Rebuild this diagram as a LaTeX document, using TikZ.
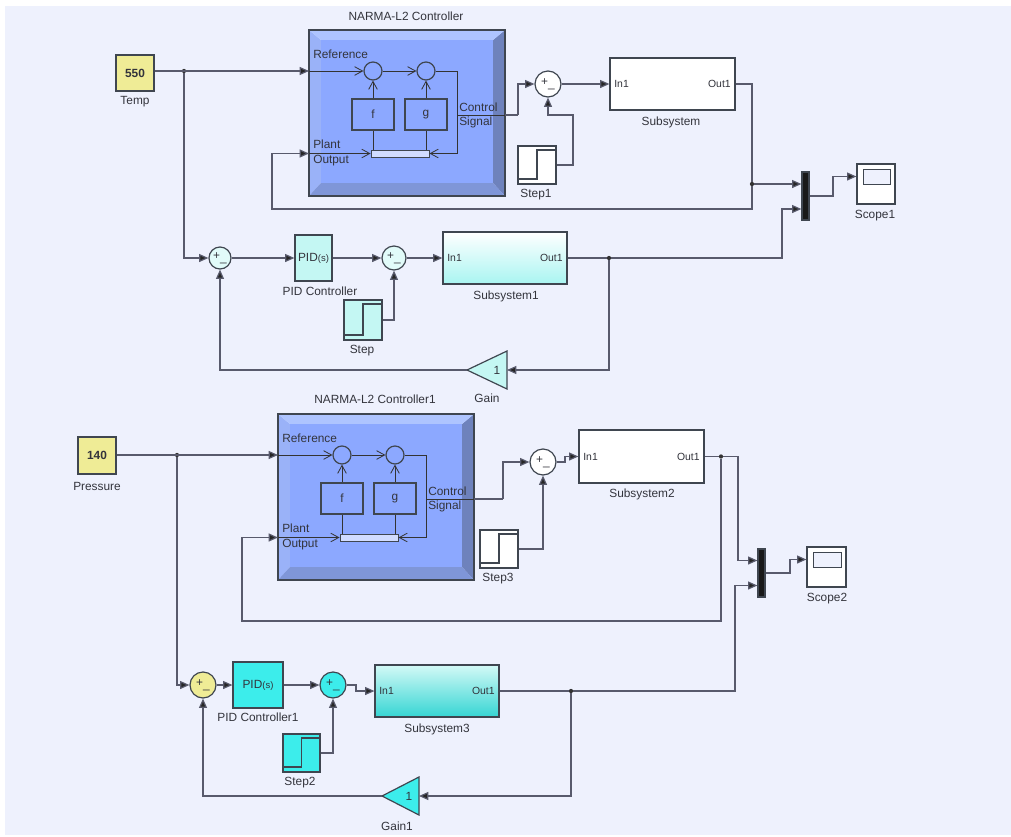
\documentclass[tikz,border=0pt]{standalone}
\usepackage{fontspec}
\setmainfont{Liberation Sans}
\usetikzlibrary{arrows.meta,calc}
\definecolor{bgc}{HTML}{EEF1FD}
\definecolor{wirec}{HTML}{585A6C}
\definecolor{edgec}{HTML}{3F4650}
\definecolor{txtc}{HTML}{33343C}
\definecolor{yel}{HTML}{EFEC96}
\definecolor{lcy}{HTML}{C4F7F3}
\definecolor{cy}{HTML}{3CEDEB}
\definecolor{nmid}{HTML}{8CA8FF}
\definecolor{ntop}{HTML}{AEC4FF}
\definecolor{nleft}{HTML}{9AB2F8}
\definecolor{nright}{HTML}{6E82BC}
\definecolor{nbot}{HTML}{7F96D8}
\tikzset{
  x=0.75pt,y=-0.75pt,
  every node/.style={text=txtc,font=\fontsize{8.9}{10}\selectfont},
  wire/.style={draw=wirec,line width=0.9pt,-{Triangle[length=7pt,width=6pt,fill=black!85]}},
  plain/.style={draw=wirec,line width=0.9pt},
  thin wire/.style={draw=black!80,line width=0.6pt},
  open/.style={draw=black!80,line width=0.6pt,-{Straight Barb[length=6pt,width=6.5pt]}},
  block/.style={draw=edgec,line width=0.9pt,inner sep=0pt},
  dot/.style={circle,fill=black!80,inner sep=0pt,minimum size=3.2pt},
  lab/.style={inner sep=0pt},
  sub white/.style={fill=white},
  sub lcy/.style={top color=white,bottom color=lcy!80!cy},
  sub cy/.style={top color=lcy!75!white,bottom color=cy!90!black},
}
% name x1 y1 x2 y2 style text
\newcommand\blk[7]{%
  \pgfmathsetmacro\bkw{(#4-#2)*0.75}\pgfmathsetmacro\bkh{(#5-#3)*0.75}%
  \node[block,#6,minimum width=\bkw pt,minimum height=\bkh pt] (#1) at ({(#2+#4)/2},{(#3+#5)/2}) {#7};}
% step block: name x1 y1 x2 y2 fill
\newcommand\stepblk[6]{%
  \blk{#1}{#2}{#3}{#4}{#5}{fill=#6}{}%
  \draw[edgec,line width=0.9pt] ({#2+1},{#5-5}) -- ({(#2+#4)/2},{#5-5}) -- ({(#2+#4)/2},{#3+4}) -- ({#4-1},{#3+4});}
% subsystem ports
\newcommand\subports[3]{%
  \node[lab,anchor=west,xshift=3.5pt,font=\fontsize{7.8}{9}\selectfont] (#1in) at (#1.west) {In1};
  \node[lab,anchor=east,xshift=-3.5pt,font=\fontsize{7.8}{9}\selectfont] (#1out) at (#1.east) {Out1};}
% gain: name tipx y rightx fill
\newcommand\gainblk[5]{%
  \coordinate (#1tip) at (#2,#3);
  \coordinate (#1in) at (#4,#3);
  \draw[edgec,line width=0.9pt,fill=#5] (#2,#3) -- (#4,#3-19) -- (#4,#3+19) -- cycle;
  \node[lab] (#1txt) at (#4-10,#3) {1};}
% NARMA block at offset
\newcommand\narma[3]{%
\begin{scope}[shift={(#2,#3)}]
  \fill[nleft] (309,30) -- (321,40) -- (321,183) -- (309,196) -- cycle;
  \fill[nright] (505,30) -- (493,40) -- (493,183) -- (505,196) -- cycle;
  \fill[nbot] (309,196) -- (321,183) -- (493,183) -- (505,196) -- cycle;
  \fill[ntop] (309,30) -- (505,30) -- (493,40) -- (321,40) -- cycle;
  \fill[nmid] (321,40) rectangle (493,183);
  \blk{#1}{309}{30}{505}{196}{}{}
  \blk{#1a}{364}{62}{382}{80}{shape=circle,minimum size=13.5pt}{}
  \blk{#1b}{417}{62}{435}{80}{shape=circle,minimum size=13.5pt}{}
  \blk{#1f}{352}{99}{394}{130}{}{f}
  \blk{#1g}{405}{99}{447}{130}{}{g}
  \blk{#1bar}{371}{150}{429}{157}{fill=nmid!40!white,line width=0.7pt}{}
  \node[lab,anchor=west] (#1refl) at (313,54) {Reference};
  \node[lab,anchor=west] (#1pl) at (313,144) {Plant};
  \node[lab,anchor=west] (#1ou) at (313,161) {Output};
  \node[lab,anchor=west] (#1cl) at (459,107) {Control};
  \node[lab,anchor=west] (#1sl) at (459,122) {Signal};
  \coordinate (#1rin) at (309,71);
  \coordinate (#1pin) at (309,153.5);
  \coordinate (#1cout) at (505,115);
  \coordinate (#1tap) at (457,71);
  \coordinate (#1ctap) at (457,115);
  \coordinate (#1brt) at (457,153.5);
  \draw[open] (#1rin) -- (#1a.west);
  \draw[open] (#1a.east) -- (#1b.west);
  \draw[thin wire] (#1b.east) -- (#1tap) -- (#1brt);
  \draw[open] (#1brt) -- (#1bar.east);
  \draw[open] (#1pin) -- (#1bar.west);
  \draw[thin wire] (#1ctap) -- (#1cout);
  \draw[thin wire] (#1bar.north -| #1f.south) -- (#1f.south);
  \draw[thin wire] (#1bar.north -| #1g.south) -- (#1g.south);
  \draw[open] (#1f.north) -- (#1a.south);
  \draw[open] (#1g.north) -- (#1b.south);
\end{scope}}
\begin{document}
\begin{tikzpicture}
\useasboundingbox (0,0) rectangle (1011,836);
\fill[white] (0,0) rectangle (1011,836);
\fill[bgc] (5,6) rectangle (1011,835);

%% top half
\blk{temp}{116}{55}{154}{91}{fill=yel}{\textbf{550}}
\node[lab] (templ) at (135,102) {Temp};
\node[lab] (nctitle) at (406,16) {NARMA-L2 Controller};
\narma{nc}{0}{0}
\blk{s1}{535}{71}{561}{97}{fill=white,shape=circle,minimum size=19.5pt}{+\raisebox{-1.5pt}{\_}}
\blk{sb}{610}{58}{735}{110}{sub white}{}
\subports{sb}{}{}
\node[lab] (sbl) at (671,122) {Subsystem};
\stepblk{st1}{518}{146}{556}{184}{white}
\node[lab] (st1l) at (536,195) {Step1};
\blk{mux1}{802}{172}{809}{220}{fill=black!90}{}
\blk{sc1}{857}{164}{895}{204}{fill=white}{}
\blk{sc1s}{863}{169}{890}{184}{fill=bgc,line width=0.7pt}{}
\node[lab] (sc1l) at (875,216) {Scope1};
\blk{sum1}{209}{247}{231}{269}{fill=lcy!50!white,shape=circle,minimum size=16.5pt}{+\raisebox{-1.5pt}{\_}}
\blk{pid}{295}{235}{332}{281}{fill=lcy}{PID\scalebox{.8}{(s)}}
\node[lab] (pidl) at (320,291) {PID Controller};
\blk{sum2}{382}{246}{406}{270}{fill=lcy!50!white,shape=circle,minimum size=18pt}{+\raisebox{-1.5pt}{\_}}
\blk{sb1}{443}{232}{567}{284}{sub lcy}{}
\subports{sb1}{}{}
\node[lab] (sb1l) at (506,296) {Subsystem1};
\stepblk{st}{344}{300}{382}{340}{lcy}
\node[lab] (stl) at (362,351) {Step};
\gainblk{gn}{467}{370}{507}{lcy}
\node[lab] (gnl) at (487,398) {Gain};

\node[dot] (j1) at (184,71) {};
\draw[wire] (temp.east |- ncrin) -- (ncrin);
\draw[wire] (j1) |- (sum1.west);
\draw[wire] (sum1.east) -- (pid.west);
\draw[wire] (pid.east) -- (sum2.west);
\draw[wire] (sum2.east) -- (sb1.west);
\draw[wire] (st.east) -| (sum2.south);
\node[dot] (j2) at (609,258) {};
\draw[plain] (sb1.east) -- (j2);
\draw[wire] (j2) -- (782,258) -- (782,209) -- ($(mux1.west)+(0,13)$);
\draw[wire] (j2) |- (gnin);
\draw[wire] (gntip) -| (sum1.south);
\draw[plain] (nccout) -- (518,115);
\draw[wire] (518,115) |- (s1.west);
\draw[wire] (s1.east) -- (sb.west);
\draw[wire] (st1.east) -- (573,165) |- (548,115) -- (s1.south);
\node[dot] (j3) at (752,184) {};
\draw[plain] (sb.east) -- (752,84) -- (j3);
\draw[wire] (j3) -- ($(mux1.west)+(0,-12)$);
\draw[wire] (j3) |- (272,209) |- (ncpin);
\draw[wire] (mux1.east) -- (833,196) |- (sc1.west |- sc1s.west);

%% bottom half
\blk{pres}{78}{437}{116}{474}{fill=yel}{\textbf{140}}
\node[lab] (presl) at (97,486) {Pressure};
\node[lab] (ndt) at (375,399) {NARMA-L2 Controller1};
\narma{nd}{-31}{384}
\blk{s2}{530}{449}{556}{475}{fill=white,shape=circle,minimum size=19.5pt}{+\raisebox{-1.5pt}{\_}}
\blk{sc}{579}{430}{704}{483}{sub white}{}
\subports{sc}{}{}
\node[lab] (scl) at (642,494) {Subsystem2};
\stepblk{st3}{480}{530}{518}{568}{white}
\node[lab] (st3l) at (498,579) {Step3};
\blk{mux2}{758}{549}{765}{597}{fill=black!90}{}
\blk{sc2}{807}{547}{846}{587}{fill=white}{}
\blk{sc2s}{813}{552}{841}{567}{fill=bgc,line width=0.7pt}{}
\node[lab] (sc2l) at (827,599) {Scope2};
\blk{sum3}{190}{672}{216}{698}{fill=yel,shape=circle,minimum size=19.5pt}{+\raisebox{-1.5pt}{\_}}
\blk{pid1}{233}{662}{283}{708}{fill=cy}{PID\scalebox{.8}{(s)}}
\node[lab] (pid1l) at (258,717) {PID Controller1};
\blk{sum4}{320}{672}{346}{698}{fill=cy,shape=circle,minimum size=19pt}{+\raisebox{-1.5pt}{\_}}
\blk{sd}{375}{665}{499}{717}{sub cy}{}
\subports{sd}{}{}
\node[lab] (sdl) at (437,729) {Subsystem3};
\stepblk{st2}{283}{734}{320}{772}{cy}
\node[lab] (st2l) at (300,783) {Step2};
\gainblk{gm}{382}{796}{419}{cy}
\node[lab] (gml) at (397,826) {Gain1};

\node[dot] (j4) at (177,455) {};
\draw[wire] (pres.east |- ndrin) -- (ndrin);
\draw[wire] (j4) |- (sum3.west);
\draw[wire] (sum3.east) -- (pid1.west);
\draw[wire] (pid1.east) -- (sum4.west);
\draw[wire] (sum4.east) -- (356,685) |- (sd.west);
\draw[wire] (st2.east) -| (sum4.south);
\node[dot] (j5) at (571,691) {};
\draw[plain] (sd.east) -- (j5);
\draw[wire] (j5) -- (735,691) |- ($(mux2.west)+(0,12.5)$);
\draw[wire] (j5) |- (gmin);
\draw[wire] (gmtip) -| (sum3.south);
\draw[plain] (ndcout) -- (503,499);
\draw[wire] (503,499) |- (s2.west);
\draw[wire] (s2.east) -- (565,462) |- (sc.west);
\draw[wire] (st3.east) -| (s2.south);
\node[dot] (j6) at (721,456.5) {};
\draw[plain] (sc.east) -- (j6);
\draw[wire] (j6) -- (738,456.5) |- ($(mux2.west)+(0,-12.5)$);
\draw[wire] (j6) |- (242,621) |- (ndpin);
\draw[wire] (mux2.east) -- (790,573) |- (sc2.west |- sc2s.west);
\end{tikzpicture}
\end{document}
